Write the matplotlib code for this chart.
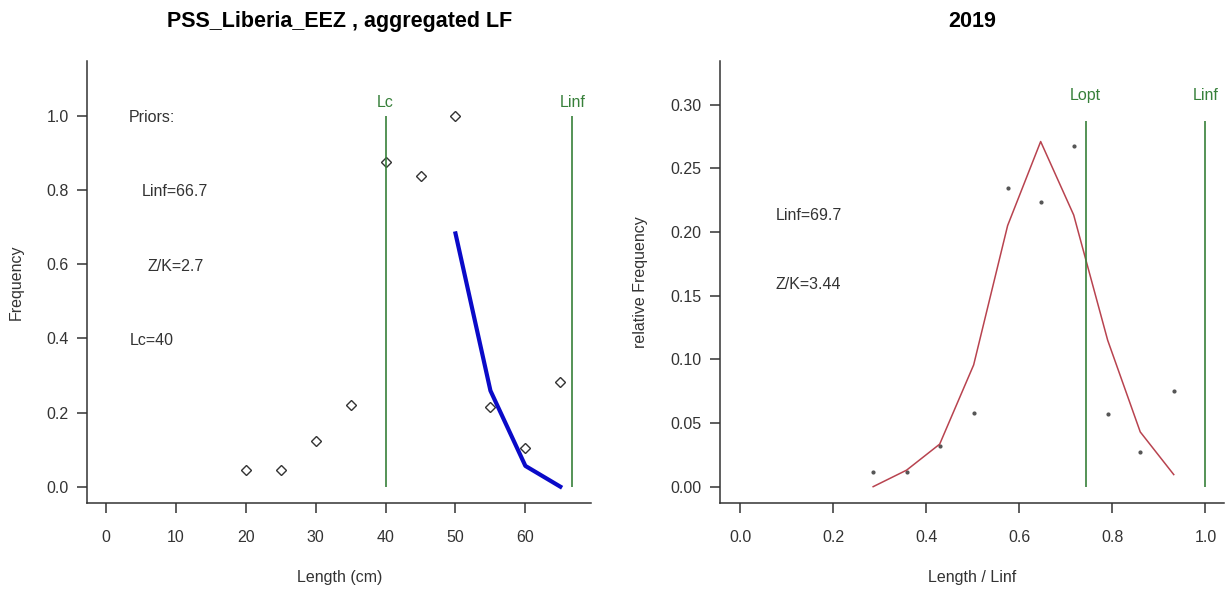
import matplotlib
matplotlib.use("Agg")
import matplotlib.pyplot as plt

plt.rcParams['font.family'] = ['Liberation Sans', 'DejaVu Sans']

# Panel 1: aggregated length frequency
comprimento = [20, 25, 30, 35, 40, 45, 50, 55, 60, 65]
frequencia = [0.045, 0.045, 0.123, 0.219, 0.875, 0.837, 1.0, 0.215, 0.104, 0.283]
comp_ajuste = [50, 55, 60, 65]
freq_ajuste = [0.683, 0.259, 0.056, 0.0]
lc = 40
linf_1 = 66.7
titulo_1 = "PSS_Liberia_EEZ , aggregated LF"
textos_1 = [("Priors:", 6.6, 0.995), ("Linf=66.7", 9.9, 0.795),
            ("Z/K=2.7", 9.9, 0.595), ("Lc=40", 6.6, 0.395)]

# Panel 2: 2019 relative frequency
comp_rel = [0.286, 0.358, 0.429, 0.502, 0.575, 0.646, 0.717, 0.790, 0.860, 0.932]
freq_rel = [0.0115, 0.0115, 0.032, 0.058, 0.2346, 0.2234, 0.2678, 0.0568, 0.027, 0.0749]
freq_curva = [0.0, 0.013, 0.0334, 0.0956, 0.205, 0.271, 0.2133, 0.115, 0.043, 0.0095]
lopt = 0.743
titulo_2 = "2019"
textos_2 = [("Linf=69.7", 0.147, 0.213), ("Z/K=3.44", 0.147, 0.159)]

cinza = '#333333'
verde = '#37803a'
fs = 11.5

fig = plt.figure(figsize=(12.25, 5.9), dpi=100)
ax1 = fig.add_axes([0.0713, 0.1475, 0.4112, 0.7497])
ax2 = fig.add_axes([0.5878, 0.1475, 0.4110, 0.7497])


def estilo(ax):
    for lado in ['top', 'right']:
        ax.spines[lado].set_visible(False)
    for lado in ['left', 'bottom']:
        ax.spines[lado].set_color(cinza)
        ax.spines[lado].set_linewidth(1.1)
    ax.tick_params(axis='both', direction='out', length=7.5, width=1.1,
                   color=cinza, labelcolor=cinza, labelsize=fs)
    ax.tick_params(axis='x', pad=12)
    ax.tick_params(axis='y', pad=6)


# Grafico da esquerda
ax1.plot(comprimento, frequencia, linestyle='none', marker='D', markersize=5,
         markerfacecolor='none', markeredgecolor=cinza, markeredgewidth=1)
ax1.plot(comp_ajuste, freq_ajuste, color='#0a0ac8', linewidth=3)
ax1.vlines([lc, linf_1], 0, 1.0, color=verde, linewidth=1.2)
ax1.text(lc, 1.035, "Lc", color=verde, ha='center', va='center', fontsize=fs)
ax1.text(linf_1, 1.035, "Linf", color=verde, ha='center', va='center', fontsize=fs)
for txt, x, y in textos_1:
    ax1.text(x, y, txt, color=cinza, ha='center', va='center', fontsize=fs)
ax1.set_xlim(-2.68, 69.4)
ax1.set_ylim(-0.044, 1.149)
ax1.set_xticks([0, 10, 20, 30, 40, 50, 60])
ax1.set_yticks([0.0, 0.2, 0.4, 0.6, 0.8, 1.0])
ax1.set_yticklabels(['0.0', '0.2', '0.4', '0.6', '0.8', '1.0'])
estilo(ax1)
ax1.set_xlabel("Length (cm)", fontsize=fs, color=cinza, labelpad=18)
ax1.set_ylabel("Frequency", fontsize=fs, color=cinza, labelpad=16)
ax1.set_title(titulo_1, fontsize=15.5, fontweight='bold', pad=24)

# Grafico da direita
ax2.plot(comp_rel, freq_rel, linestyle='none', marker='o', markersize=2.0,
         color='#555555')
ax2.plot(comp_rel, freq_curva, color='#b8434f', linewidth=1.1)
ax2.vlines([lopt, 1.0], 0, 0.287, color=verde, linewidth=1.2)
ax2.text(lopt, 0.307, "Lopt", color=verde, ha='center', va='center', fontsize=fs)
ax2.text(1.0, 0.307, "Linf", color=verde, ha='center', va='center', fontsize=fs)
for txt, x, y in textos_2:
    ax2.text(x, y, txt, color=cinza, ha='center', va='center', fontsize=fs)
ax2.set_xlim(-0.043, 1.039)
ax2.set_ylim(-0.0128, 0.3345)
ax2.set_xticks([0.0, 0.2, 0.4, 0.6, 0.8, 1.0])
ax2.set_xticklabels(['0.0', '0.2', '0.4', '0.6', '0.8', '1.0'])
ax2.set_yticks([0.0, 0.05, 0.10, 0.15, 0.20, 0.25, 0.30])
ax2.set_yticklabels(['0.00', '0.05', '0.10', '0.15', '0.20', '0.25', '0.30'])
estilo(ax2)
ax2.set_xlabel("Length / Linf", fontsize=fs, color=cinza, labelpad=18)
ax2.set_ylabel("relative Frequency", fontsize=fs, color=cinza, labelpad=16)
ax2.set_title(titulo_2, fontsize=15.5, fontweight='bold', pad=24)

fig.savefig("out.png", dpi=100)
